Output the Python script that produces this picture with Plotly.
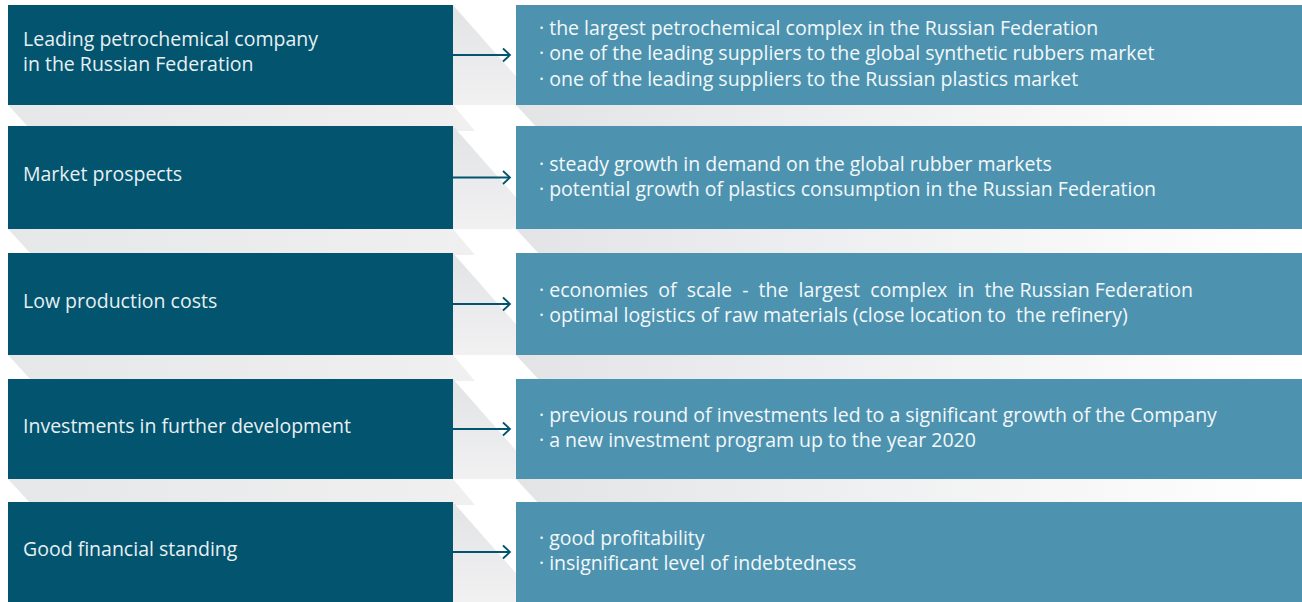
import plotly.graph_objects as go

# ---- data ----
strengths = [
    "Leading petrochemical company<br>in the Russian Federation",
    "Market prospects",
    "Low production costs",
    "Investments in further development",
    "Good financial standing",
]
details = [
    ["the largest petrochemical complex in the Russian Federation",
     "one of the leading suppliers to the global synthetic rubbers market",
     "one of the leading suppliers to the Russian plastics market"],
    ["steady growth in demand on the global rubber markets",
     "potential growth of plastics consumption in the Russian Federation"],
    ["economies\u00a0 of\u00a0 scale\u00a0 -\u00a0 the\u00a0 largest\u00a0 complex\u00a0 in\u00a0 the Russian Federation",
     "optimal logistics of raw materials (close location to\u00a0 the refinery)"],
    ["previous round of investments led to a significant growth of the Company",
     "a new investment program up to the year 2020"],
    ["good profitability",
     "insignificant level of indebtedness"],
]

# ---- layout constants ----
W, H = 1302, 602
ROW_TOP = [5, 126, 253, 379, 502]
ROW_BOT = [105, 229, 355, 479, 602]
LX0, LX1 = 8, 453
RX0, RX1 = 516, 1302
DARK = "#02546f"
LIGHT = "#4d93b0"
FONT = "Open Sans"
FSIZE = 19.5

fig = go.Figure()

def poly(xs, ys, c0, c1, orient, start, stop):
    fig.add_trace(go.Scatter(
        x=xs + [xs[0]], y=ys + [ys[0]], mode="lines", fill="toself",
        line=dict(width=0, color="rgba(0,0,0,0)"),
        fillgradient=dict(type=orient, colorscale=[[0, c0], [1, c1]],
                          start=start, stop=stop),
        hoverinfo="skip", showlegend=False))

# shadows
for y0, y1 in zip(ROW_TOP, ROW_BOT):
    # right of the left box
    poly([LX1, LX1 + 75, LX1 + 75, LX1], [y0, y0 + 85, y1, y1],
         "#e2e3e5", "#f1f1f2", "vertical", y0, y1)
    # below the left box
    poly([LX0, LX1, LX1 + 22, LX0 + 24], [y1, y1, y1 + 26, y1 + 26],
         "#e6e7e8", "#f0f0f1", "horizontal", LX0, LX1 + 26)
    # below the right box
    poly([RX0, RX1 + 30, RX1 + 30, RX0 + 24], [y1, y1, y1 + 26, y1 + 26],
         "#e3e4e6", "#ffffff", "horizontal", RX0, RX1)

# boxes
for y0, y1 in zip(ROW_TOP, ROW_BOT):
    fig.add_shape(type="rect", x0=LX0, x1=LX1, y0=y0, y1=y1,
                  fillcolor=DARK, line=dict(width=0), layer="above")
    fig.add_shape(type="rect", x0=RX0, x1=RX1, y0=y0, y1=y1,
                  fillcolor=LIGHT, line=dict(width=0), layer="above")

# arrows
for y0, y1 in zip(ROW_TOP, ROW_BOT):
    yc = (y0 + y1) / 2
    fig.add_trace(go.Scatter(
        x=[LX1, 510, None, 503, 510, 503],
        y=[yc, yc, None, yc - 6.5, yc, yc + 6.5],
        mode="lines", line=dict(color=DARK, width=1.8),
        hoverinfo="skip", showlegend=False))

# texts
for i, (y0, y1) in enumerate(zip(ROW_TOP, ROW_BOT)):
    yc = (y0 + y1) / 2
    fig.add_annotation(x=LX0 + 13, y=yc - 4, xref="x", yref="y",
                       text=strengths[i], showarrow=False,
                       xanchor="left", yanchor="middle", align="left",
                       font=dict(family=FONT, size=FSIZE, color="#e8f0f3"))
    fig.add_annotation(x=RX0 + 21, y=yc - 2, xref="x", yref="y",
                       text="<br>".join("\u00b7 " + t for t in details[i]),
                       showarrow=False, xanchor="left", yanchor="middle", align="left",
                       font=dict(family=FONT, size=FSIZE, color="#f3f8fa"))

fig.update_layout(
    width=W, height=H, margin=dict(l=0, r=0, t=0, b=0),
    paper_bgcolor="white", plot_bgcolor="white",
    xaxis=dict(range=[0, W], visible=False, fixedrange=True),
    yaxis=dict(range=[H, 0], visible=False, fixedrange=True),
    showlegend=False,
)

fig.write_html("out.html", config={"displayModeBar": False},
               post_script="document.body.style.margin='0';document.body.style.overflow='hidden';")
